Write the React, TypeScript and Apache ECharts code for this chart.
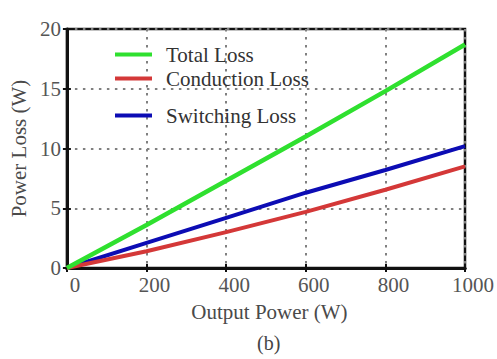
import React, { useEffect, useRef } from "react";
import * as echarts from "echarts";

const outputPower = [0, 200, 400, 600, 800, 1000];
const totalLoss = [0, 3.6, 7.3, 11.0, 14.8, 18.7];
const conductionLoss = [0, 1.4, 3.0, 4.7, 6.55, 8.5];
const switchingLoss = [0, 2.1, 4.2, 6.3, 8.2, 10.2];
const seriesNames = ["Total Loss", "Conduction Loss", "Switching Loss"];
const seriesColors = ["#2fe02f", "#d43838", "#0c0cb4"];

const FONT = "Liberation Serif";

export default function App() {
  const ref = useRef<HTMLDivElement>(null);
  useEffect(() => {
    if (!ref.current) return;
    const chart = echarts.init(ref.current, undefined, { renderer: "svg" });
    const pairs = (ys: number[]) => outputPower.map((x, i) => [x, ys[i]]);
    const allData = [totalLoss, conductionLoss, switchingLoss];
    const legendTops = [39, 63, 100];
    const gridLine = { show: true, lineStyle: { color: "#808080", width: 2, type: [2.5, 5.5] as any } };
    chart.setOption({
      animation: false,
      backgroundColor: "#ffffff",
      grid: { left: 59, top: 29, right: 31, bottom: 91, show: true, borderColor: "#111", borderWidth: 2.5, containLabel: false },
      legend: seriesNames.map((n, i) => ({
        data: [n],
        left: 110,
        top: legendTops[i],
        icon: "rect",
        itemWidth: 37,
        itemHeight: 4,
        textStyle: { fontFamily: FONT, fontSize: 21, color: "#333", padding: [0, 0, 0, 9] },
      })),
      xAxis: [
        {
          type: "value",
          min: 0,
          max: 1000,
          interval: 200,
          name: "Output Power (W)",
          nameLocation: "middle",
          nameGap: 33,
          nameTextStyle: { fontFamily: FONT, fontSize: 21, color: "#4a4a4a", padding: [0, 0, 0, 7] },
          axisLine: { show: true, lineStyle: { color: "#111", width: 3 } },
          axisTick: { show: true, inside: true, length: 4, lineStyle: { color: "#111", width: 2 } },
          axisLabel: { fontFamily: FONT, fontSize: 21, color: "#555", margin: 6, padding: [0, 0, 0, 16], formatter: (v: number) => String(v) },
          splitLine: gridLine,
        },
        {
          type: "value",
          position: "top",
          min: 0,
          max: 1000,
          interval: 200,
          axisLine: { show: true, lineStyle: { color: "#111", width: 3 } },
          axisTick: { show: true, inside: true, length: 4, lineStyle: { color: "#111", width: 2 } },
          axisLabel: { show: false },
          splitLine: { show: false },
        },
      ],
      yAxis: [
        {
          type: "value",
          min: 0,
          max: 20,
          interval: 5,
          name: "Power Loss (W)",
          nameLocation: "middle",
          nameGap: 36,
          nameTextStyle: { fontFamily: FONT, fontSize: 21, color: "#4a4a4a" },
          axisLine: { show: true, lineStyle: { color: "#111", width: 3 } },
          axisTick: { show: true, inside: true, length: 4, lineStyle: { color: "#111", width: 2 } },
          axisLabel: { fontFamily: FONT, fontSize: 21, color: "#555", margin: 6, padding: [7, 0, 0, 0] },
          splitLine: gridLine,
        },
        {
          type: "value",
          position: "right",
          min: 0,
          max: 20,
          interval: 5,
          axisLine: { show: true, lineStyle: { color: "#111", width: 2 } },
          axisTick: { show: true, inside: true, length: 4, lineStyle: { color: "#111", width: 2 } },
          axisLabel: { show: false },
          splitLine: { show: false },
        },
      ],
      graphic: [
        {
          type: "text",
          left: 257,
          top: 333,
          style: { text: "(b)", fontFamily: FONT, fontSize: 20, fill: "#444" },
        },
      ],
      series: seriesNames.map((n, i) => ({
        name: n,
        type: "line",
        data: pairs(allData[i]),
        symbol: "none",
        lineStyle: { color: seriesColors[i], width: i === 0 ? 4.5 : 4 },
        itemStyle: { color: seriesColors[i] },
        z: 3 - i,
      })),
    });
    return () => chart.dispose();
  }, []);
  return <div ref={ref} style={{ position: "fixed", left: 0, top: 0, width: 497, height: 359 }} />;
}
